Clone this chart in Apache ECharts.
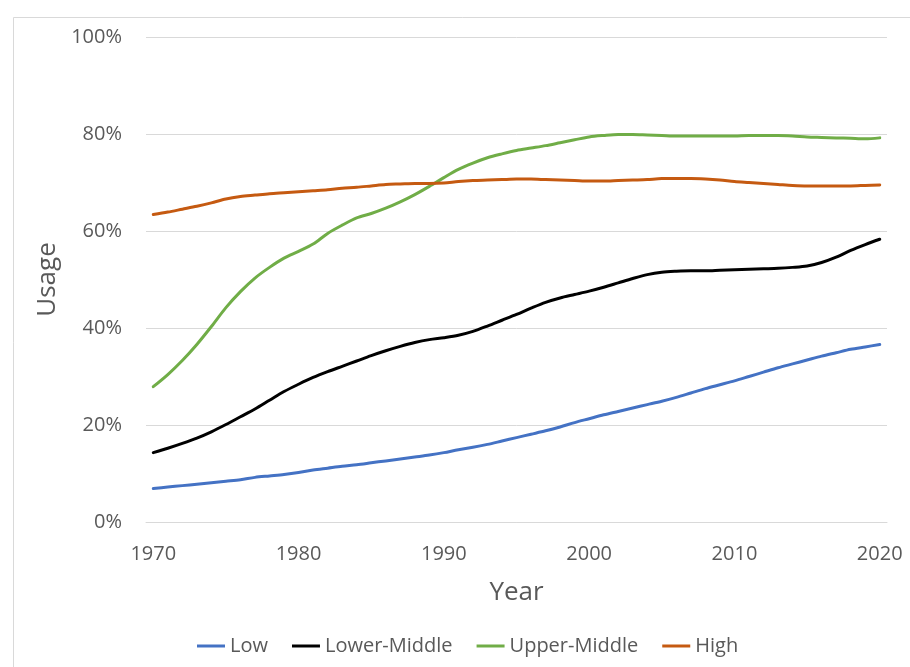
<!DOCTYPE html>
<html>
<head>
<meta charset="utf-8">
<script src="https://cdn.jsdelivr.net/npm/echarts@6/dist/echarts.min.js"></script>
<style>
  html, body { margin: 0; padding: 0; background: #ffffff; }
  #chart { width: 910px; height: 667px; }
</style>
</head>
<body>
<div id="chart"></div>
<script>
const years = [
  '1970','1971','1972','1973','1974','1975','1976','1977','1978','1979',
  '1980','1981','1982','1983','1984','1985','1986','1987','1988','1989',
  '1990','1991','1992','1993','1994','1995','1996','1997','1998','1999',
  '2000','2001','2002','2003','2004','2005','2006','2007','2008','2009',
  '2010','2011','2012','2013','2014','2015','2016','2017','2018','2019',
  '2020'
];

const low = [
  6.9, 7.2, 7.5, 7.8, 8.1, 8.4, 8.7, 9.2, 9.5, 9.8,
  10.2, 10.7, 11.1, 11.5, 11.8, 12.2, 12.6, 13.0, 13.4, 13.8,
  14.3, 14.9, 15.4, 16.0, 16.7, 17.4, 18.1, 18.8, 19.6, 20.5,
  21.3, 22.1, 22.8, 23.5, 24.2, 24.9, 25.7, 26.6, 27.5, 28.3,
  29.1, 30.0, 30.9, 31.8, 32.6, 33.4, 34.2, 34.9, 35.6, 36.1,
  36.6
];

const lowerMiddle = [
  14.3, 15.2, 16.2, 17.3, 18.6, 20.1, 21.7, 23.3, 25.1, 26.9,
  28.4, 29.8, 31.0, 32.1, 33.2, 34.3, 35.3, 36.2, 37.0, 37.6,
  38.0, 38.5, 39.3, 40.4, 41.6, 42.8, 44.1, 45.3, 46.2, 46.9,
  47.6, 48.4, 49.3, 50.2, 51.0, 51.5, 51.7, 51.8, 51.8, 51.9,
  52.0, 52.1, 52.2, 52.3, 52.5, 52.8, 53.5, 54.6, 56.0, 57.2,
  58.3
];

const upperMiddle = [
  27.9, 30.4, 33.3, 36.6, 40.3, 44.2, 47.5, 50.3, 52.5, 54.4,
  55.8, 57.3, 59.5, 61.2, 62.7, 63.6, 64.7, 66.0, 67.5, 69.2,
  71.0, 72.7, 74.0, 75.1, 75.9, 76.6, 77.1, 77.6, 78.2, 78.8,
  79.4, 79.7, 79.9, 79.9, 79.8, 79.7, 79.6, 79.6, 79.6, 79.6,
  79.6, 79.7, 79.7, 79.7, 79.6, 79.4, 79.3, 79.2, 79.1, 79.0,
  79.2
];

const high = [
  63.4, 63.9, 64.5, 65.1, 65.8, 66.6, 67.1, 67.4, 67.7, 67.9,
  68.1, 68.3, 68.5, 68.8, 69.0, 69.3, 69.6, 69.7, 69.8, 69.8,
  69.9, 70.2, 70.4, 70.5, 70.6, 70.7, 70.7, 70.6, 70.5, 70.4,
  70.3, 70.3, 70.4, 70.5, 70.6, 70.8, 70.8, 70.8, 70.7, 70.5,
  70.2, 70.0, 69.8, 69.6, 69.4, 69.3, 69.3, 69.3, 69.3, 69.4,
  69.5
];

const seriesNames = ['Low', 'Lower-Middle', 'Upper-Middle', 'High'];
const seriesColors = ['#4472C4', '#000000', '#70AD47', '#C55A11'];
const seriesData = [low, lowerMiddle, upperMiddle, high];

const FONT = 'Open Sans';
const chart = echarts.init(document.getElementById('chart'), null, { renderer: 'canvas' });

chart.setOption({
  backgroundColor: '#ffffff',
  animation: false,
  textStyle: { fontFamily: FONT },
  graphic: [{
    type: 'rect',
    left: 11, top: 15,
    shape: { x: 0, y: 0, width: 910, height: 670 },
    style: { fill: 'none', stroke: '#d9d9d9', lineWidth: 1 },
    silent: true, z: -10
  }],
  grid: { left: 146, right: 23, top: 37, bottom: 145, containLabel: false },
  legend: {
    data: seriesNames,
    left: 192,
    top: 631,
    icon: 'rect',
    itemWidth: 28,
    itemHeight: 3,
    itemGap: 24,
    textStyle: { fontFamily: FONT, fontSize: 20, color: '#595959' }
  },
  xAxis: {
    type: 'category',
    data: years,
    boundaryGap: true,
    name: 'Year',
    nameLocation: 'middle',
    nameGap: 58,
    nameTextStyle: { fontFamily: FONT, fontSize: 26, color: '#595959' },
    axisLine: { show: true, lineStyle: { color: '#d9d9d9', width: 1 } },
    axisTick: { show: false },
    axisLabel: { interval: 9, margin: 22, fontFamily: FONT, fontSize: 20, color: '#595959' },
    splitLine: { show: false }
  },
  yAxis: {
    type: 'value',
    min: 0, max: 100, interval: 20,
    name: 'Usage',
    nameLocation: 'middle',
    nameGap: 85,
    nameRotate: 90,
    nameTextStyle: { fontFamily: FONT, fontSize: 26, color: '#595959' },
    axisLine: { show: false },
    axisTick: { show: false },
    axisLabel: { formatter: '{value}%', margin: 24, fontFamily: FONT, fontSize: 20, color: '#595959' },
    splitLine: { show: true, lineStyle: { color: '#d9d9d9', width: 1 } }
  },
  series: seriesNames.map((n, i) => ({
    name: n,
    type: 'line',
    data: seriesData[i],
    color: seriesColors[i],
    showSymbol: false,
    symbol: 'none',
    smooth: 0.3,
    lineStyle: { width: 3, color: seriesColors[i], cap: 'round' }
  }))
});
</script>
</body>
</html>
